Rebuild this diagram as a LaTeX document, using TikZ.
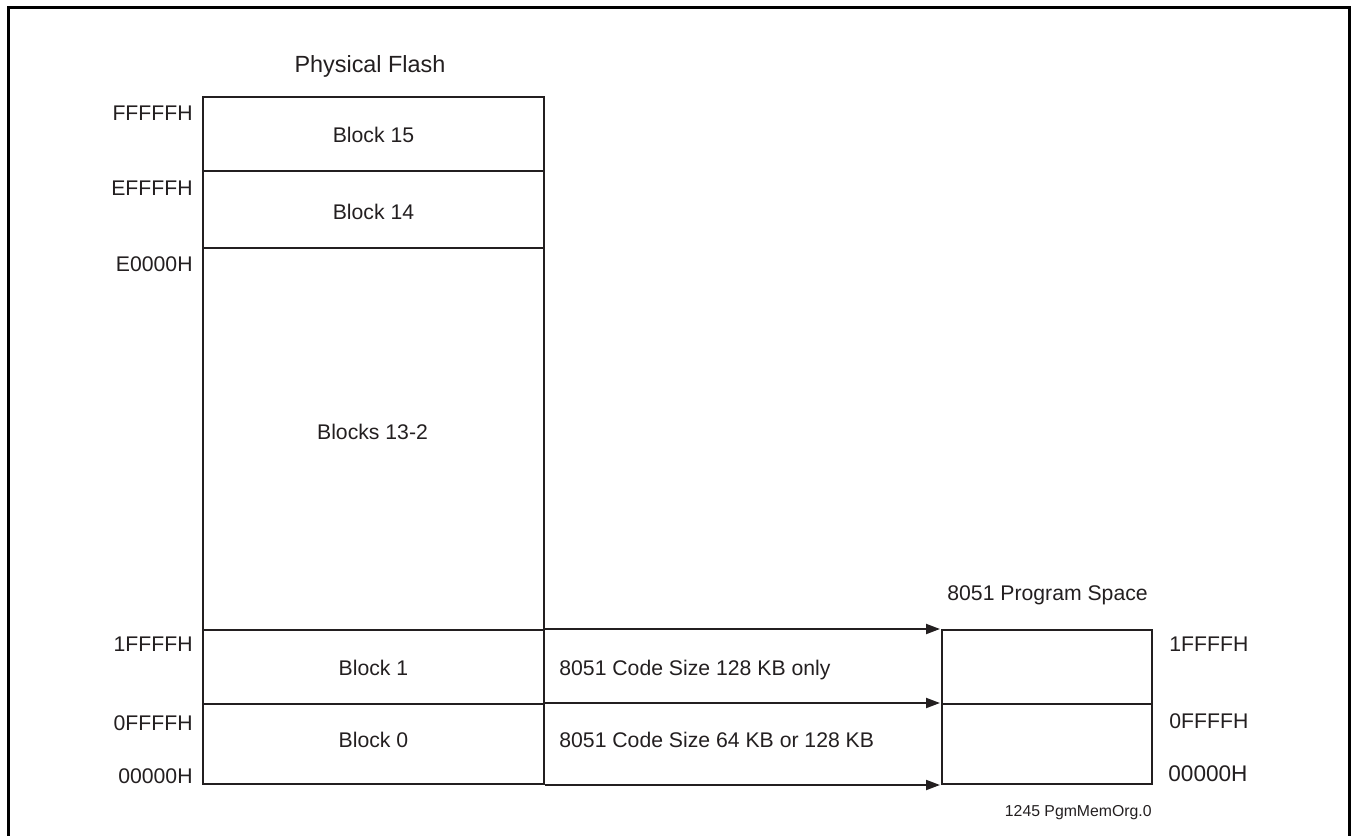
\documentclass[tikz,border=0pt]{standalone}
\usepackage{fontspec}
\setmainfont{Liberation Sans}
\usetikzlibrary{arrows.meta}
\definecolor{ink}{HTML}{231F20}
\tikzset{
  blk/.style={draw=ink, line width=1pt, rectangle, inner sep=0pt, anchor=center},
  lbl/.style={inner sep=0pt, text=ink, font=\fontsize{10.6}{12}\selectfont},
  arr/.style={draw=ink, line width=1pt, -{Triangle[length=7pt,width=5pt]}, shorten >=0.5pt},
  frame/.style={draw=black, line width=1.5pt}
}
\begin{document}
\begin{tikzpicture}[x=0.5pt,y=-0.5pt]
\useasboundingbox (0,0) rectangle (1351,836);
\draw[frame] (8,836) -- (8,7) -- (1349,7) -- (1349,836);
% physical flash blocks
\node[blk, minimum width=170.5pt, minimum height=37pt]  (b15) at (373.5,134) {};
\node[blk, minimum width=170.5pt, minimum height=38.5pt] (b14) at (373.5,209.5) {};
\node[blk, minimum width=170.5pt, minimum height=191pt] (b13) at (373.5,439) {};
\node[blk, minimum width=170.5pt, minimum height=37pt]  (b1) at (373.5,667) {};
\node[blk, minimum width=170.5pt, minimum height=40pt]  (b0) at (373.5,744) {};
% program space blocks
\node[blk, minimum width=105pt, minimum height=37pt] (p1) at (1047,667) {};
\node[blk, minimum width=105pt, minimum height=40pt] (p0) at (1047,744) {};
% arrows
\draw[arr] (b1.north east) -- (p1.north west);
\draw[arr] (b0.north east) -- (p0.north west);
\draw[arr] (b0.south east) -- (p0.south west);
% titles
\node[lbl, anchor=base, font=\fontsize{11.7}{13}\selectfont] (tflash) at (370,72) {Physical Flash};
\node[lbl, anchor=base west] (tprog) at (947,600.7) {8051 Program Space};
% block labels
\node[lbl, anchor=base] (l15) at (373.5,142.3) {Block 15};
\node[lbl, anchor=base] (l14) at (373.5,219.3) {Block 14};
\node[lbl, anchor=base] (l13) at (372.5,439) {Blocks 13-2};
\node[lbl, anchor=base] (l1) at (373.5,675.7) {Block 1};
\node[lbl, anchor=base] (l0) at (373.5,747.3) {Block 0};
% code size labels
\node[lbl, anchor=base west] (c1) at (559,675) {8051 Code Size 128 KB only};
\node[lbl, anchor=base west] (c0) at (559,747.7) {8051 Code Size 64 KB or 128 KB};
% left addresses
\node[lbl, anchor=base east] (a1) at (193,120) {FFFFFH};
\node[lbl, anchor=base east] (a2) at (193,195) {EFFFFH};
\node[lbl, anchor=base east] (a3) at (193,271.7) {E0000H};
\node[lbl, anchor=base east] (a4) at (193,651.7) {1FFFFH};
\node[lbl, anchor=base east] (a5) at (193,730) {0FFFFH};
\node[lbl, anchor=base east] (a6) at (193,783.3) {00000H};
% right addresses
\node[lbl, anchor=base west] (r1) at (1169,651.7) {1FFFFH};
\node[lbl, anchor=base west] (r2) at (1169,728) {0FFFFH};
\node[lbl, anchor=base west, font=\fontsize{11.3}{13}\selectfont] (r3) at (1168,781.7) {00000H};
% figure id
\node[lbl, anchor=base east, font=\fontsize{7.9}{9}\selectfont] (fid) at (1152,816.7) {1245 PgmMemOrg.0};
\end{tikzpicture}
\end{document}
